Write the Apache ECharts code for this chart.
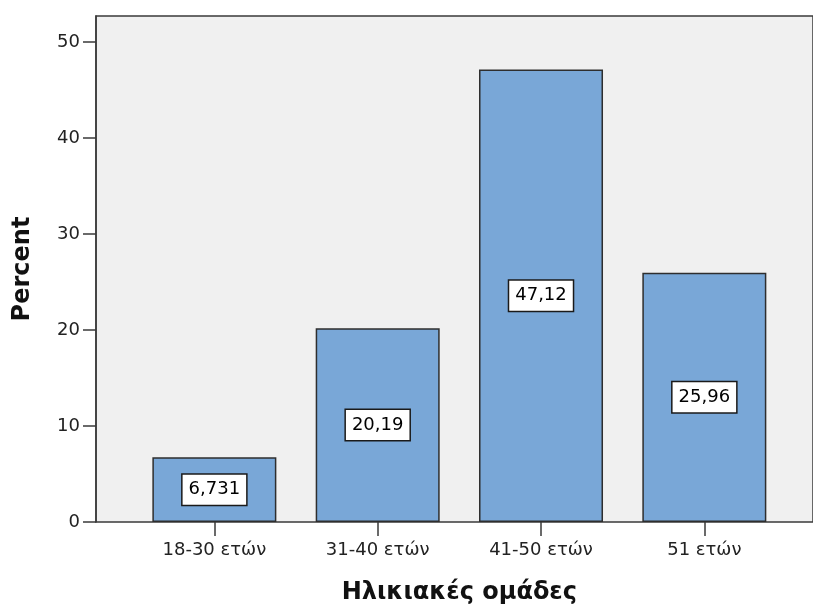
<!DOCTYPE html>
<html>
<head>
<meta charset="utf-8">
<script src="https://cdn.jsdelivr.net/npm/echarts@6/dist/echarts.min.js"></script>
<style>
  html, body { margin: 0; padding: 0; background: #ffffff; }
  #chart { width: 813px; height: 613px; }
</style>
</head>
<body>
<div id="chart"></div>
<script>
// Age groups and their share of respondents (%)
const categories = ['18-30 ετών', '31-40 ετών', '41-50 ετών', '51 ετών'];
const percents = [6.731, 20.19, 47.12, 25.96];
const yTicks = { min: 0, max: 52.7, interval: 10 };

const FONT = 'DejaVu Sans';
const chart = echarts.init(document.getElementById('chart'), null, { renderer: 'canvas' });

const plotTop = 16, plotBottom = 91;
const lineColor = '#3a3a3a';

chart.setOption({
  animation: false,
  textStyle: { fontFamily: FONT },
  grid: [
    // frame of the plot area (background, top border, y axis); runs past the right edge
    { left: 96, width: 780, top: plotTop, bottom: plotBottom, show: true,
      backgroundColor: '#f0f0f0', borderColor: lineColor, borderWidth: 1.5, containLabel: false },
    // band holding the four bars
    { left: 132.7, width: 653.3, top: plotTop, bottom: plotBottom, containLabel: false }
  ],
  xAxis: [
    { type: 'value', gridIndex: 0, min: 0, max: 1, show: false },
    { type: 'category', gridIndex: 1, data: categories,
      axisLine: { show: false },
      axisTick: { show: true, alignWithLabel: true, length: 14, lineStyle: { color: lineColor, width: 1.5 } },
      axisLabel: { color: '#222', fontSize: 18, margin: 19, fontFamily: FONT },
      name: 'Ηλικιακές ομάδες', nameLocation: 'middle', nameGap: 59,
      nameTextStyle: { fontSize: 24, fontWeight: 'bold', color: '#111', fontFamily: FONT }
    }
  ],
  yAxis: [
    { type: 'value', gridIndex: 0, min: yTicks.min, max: yTicks.max, interval: yTicks.interval,
      axisLine: { show: true, lineStyle: { color: lineColor, width: 1.5 } },
      axisTick: { show: true, length: 13, lineStyle: { color: lineColor, width: 1.5 } },
      splitLine: { show: false },
      axisLabel: { color: '#222', fontSize: 18, margin: 16, fontFamily: FONT,
        showMaxLabel: false },
      name: 'Percent', nameLocation: 'middle', nameGap: 61, nameRotate: 90,
      nameTextStyle: { fontSize: 24, fontWeight: 'bold', color: '#111', fontFamily: FONT }
    },
    { type: 'value', gridIndex: 1, min: yTicks.min, max: yTicks.max, interval: yTicks.interval, show: false }
  ],
  series: [{
    type: 'bar',
    xAxisIndex: 1, yAxisIndex: 1,
    data: percents,
    barWidth: 124,
    itemStyle: { color: '#79a7d7', borderColor: '#2e2e2e', borderWidth: 1.5 },
    label: {
      show: true, position: 'inside',
      formatter: p => String(p.value).replace('.', ','),
      color: '#000', fontSize: 18, fontFamily: FONT,
      backgroundColor: '#ffffff', borderColor: '#1a1a1a', borderWidth: 1.5,
      padding: [7, 6, 5, 6]
    }
  }]
});
</script>
</body>
</html>
